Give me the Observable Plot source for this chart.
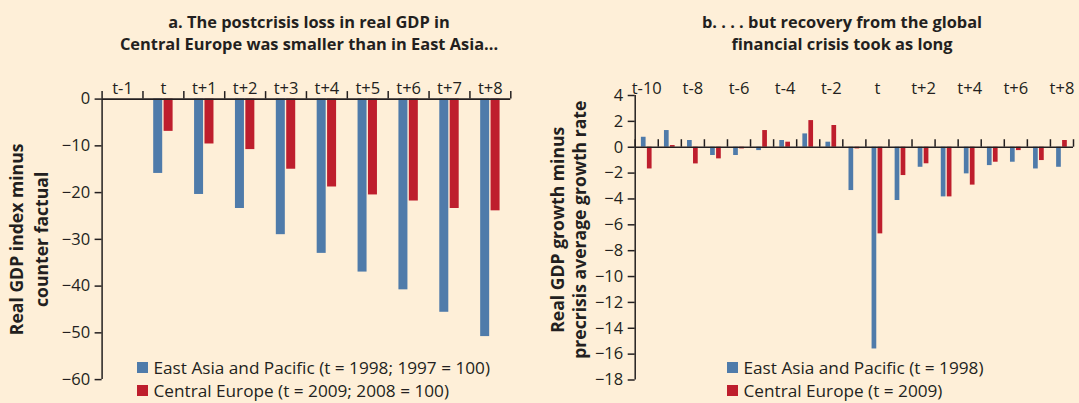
<!DOCTYPE html>
<html><head><meta charset="utf-8">
<script src="https://cdn.jsdelivr.net/npm/d3@7"></script>
<script src="https://cdn.jsdelivr.net/npm/@observablehq/plot@0.6"></script>
<style>
html,body{margin:0;padding:0;background:#FEEFD8;}
body{font-family:"Open Sans",Lato,sans-serif;color:#231f20;}
#wrap{position:relative;width:1079px;height:403px;overflow:hidden;background:#FEEFD8;}
.abs{position:absolute;}
.title{position:absolute;font-weight:700;font-size:16.4px;line-height:22.4px;text-align:center;white-space:nowrap;transform:translateX(-50%);}
.legend{position:absolute;font-size:17.2px;line-height:22px;white-space:nowrap;}
.legend .row{display:flex;align-items:center;height:23px;}
.legend .sw{width:10.5px;height:10.5px;margin-right:6px;flex:none;}
</style>
</head><body>
<div id="wrap">
  <div class="title" id="titleA" style="left:309px;top:11px;"></div>
  <div class="title" id="titleB" style="left:842px;top:11px;"></div>
  <div class="abs" id="plotA" style="left:0;top:60px;"></div>
  <div class="abs" id="plotB" style="left:540px;top:60px;"></div>
  <div class="legend" id="legA" style="left:137px;top:356px;"></div>
  <div class="legend" id="legB" style="left:727px;top:356px;"></div>
</div>
<script>
// ---- data ----
const titleA = ["a. The postcrisis loss in real GDP in", "Central Europe was smaller than in East Asia..."];
const titleB = ["b. . . . but recovery from the global", "financial crisis took as long"];
const yTitleA = ["Real GDP index minus", "counter factual"];
const yTitleB = ["Real GDP growth minus", "precrisis average growth rate"];

const seriesNames = ["East Asia and Pacific", "Central Europe"];
const seriesColors = ["#4F7BAA", "#BE1E2D"];
const legendA = ["East Asia and Pacific (t = 1998; 1997 = 100)", "Central Europe (t = 2009; 2008 = 100)"];
const legendB = ["East Asia and Pacific (t = 1998)", "Central Europe (t = 2009)"];

const periodsA = ["t-1","t","t+1","t+2","t+3","t+4","t+5","t+6","t+7","t+8"];
const eastAsiaA = [0, -15.9, -20.4, -23.4, -29.0, -33.0, -37.0, -40.8, -45.6, -50.8];
const centralEuropeA = [0, -6.9, -9.6, -10.8, -15.0, -18.8, -20.5, -21.8, -23.4, -23.9];
const yTicksA = [0, -10, -20, -30, -40, -50, -60];

const periodsB = ["t-10","t-9","t-8","t-7","t-6","t-5","t-4","t-3","t-2","t-1","t","t+1","t+2","t+3","t+4","t+5","t+6","t+7","t+8"];
const eastAsiaB = [0.77, 1.29, 0.52, -0.64, -0.64, -0.26, 0.52, 1.03, 0.39, -3.35, -15.6, -4.12, -1.55, -3.84, -2.06, -1.42, -1.16, -1.68, -1.55];
const centralEuropeB = [-1.68, 0.13, -1.29, -0.9, -0.13, 1.29, 0.39, 2.06, 1.68, -0.13, -6.7, -2.19, -1.28, -3.84, -2.93, -1.16, -0.26, -1.03, 0.52];
const yTicksB = [4, 2, 0, -2, -4, -6, -8, -10, -12, -14, -16, -18];

// ---- helpers ----
const ink = "#231f20";
const fontFam = "'Open Sans', Lato, sans-serif";
const fmt = d => d < 0 ? "\u2212" + Math.abs(d) : String(d);

function table(periods, a, b) {
  return periods.flatMap((p, i) => [
    {i, period: p, series: seriesNames[0], value: a[i]},
    {i, period: p, series: seriesNames[1], value: b[i]}
  ]);
}

function panel({periods, a, b, yTicks, yDomain, width, height, margins, labelEvery, labelDy, inset, yTitle, titleDx, titleDy, titleSize}) {
  const rows = table(periods, a, b);
  const n = periods.length;
  const [bw, gap] = inset; // pixel bar width & gap
  const band = (width - margins[1] - margins[3]) / n;
  const inner = band / 2;
  return Plot.plot({
    width, height,
    marginTop: margins[0], marginRight: margins[1], marginBottom: margins[2], marginLeft: margins[3],
    style: {background: "transparent", fontFamily: fontFam, fontSize: "16px", color: ink, overflow: "visible"},
    x: {type: "linear", domain: [0, n], axis: null},
    y: {domain: yDomain, axis: null},
    marks: [
      Plot.rect(rows.filter(d => d.series === seriesNames[0]), {
        x1: d => d.i, x2: d => d.i + 1, y1: 0, y2: "value",
        fill: seriesColors[0], insetLeft: inner - gap / 2 - bw, insetRight: inner + gap / 2
      }),
      Plot.rect(rows.filter(d => d.series === seriesNames[1]), {
        x1: d => d.i, x2: d => d.i + 1, y1: 0, y2: "value",
        fill: seriesColors[1], insetLeft: inner + gap / 2, insetRight: inner - gap / 2 - bw
      }),
      Plot.ruleX([0], {stroke: ink, strokeWidth: 1.5}),
      Plot.ruleY([0], {stroke: ink, strokeWidth: 1.6}),
      Plot.ruleX(d3.range(n + 1), {x: d => d, y1: 0, y2: 0, insetTop: -7.5, stroke: ink, strokeWidth: 1.5}),
      Plot.axisY({ticks: yTicks, tickFormat: fmt, tickSize: 7, tickPadding: 5, fontSize: 16.5, stroke: ink, strokeWidth: 1.5, label: null, fill: ink}),
      Plot.text(periods, {filter: (d, i) => i % labelEvery === 0, x: (d, i) => i + 0.5, frameAnchor: "top", dy: labelDy, text: d => d, fontSize: 16.5, fill: ink}),
      Plot.text([yTitle[0]], {frameAnchor: "left", textAnchor: "middle", rotate: -90, dx: titleDx[0], dy: titleDy, text: d => d, fontSize: titleSize, fontWeight: "bold", fill: ink}),
      Plot.text([yTitle[1]], {frameAnchor: "left", textAnchor: "middle", rotate: -90, dx: titleDx[1], dy: titleDy, text: d => d, fontSize: titleSize, fontWeight: "bold", fill: ink})
    ]
  });
}

document.getElementById("plotA").append(panel({
  periods: periodsA, a: eastAsiaA, b: centralEuropeA, yTicks: yTicksA, yDomain: [-60, 0],
  width: 540, height: 343, margins: [38.6, 29.7, 23.9, 101.6],
  labelEvery: 1, labelDy: -17, inset: [9, 1.4], yTitle: yTitleA, titleDx: [-85, -60], titleDy: 0, titleSize: 17.6
}));
document.getElementById("plotB").append(panel({
  periods: periodsB, a: eastAsiaB, b: centralEuropeB, yTicks: yTicksB, yDomain: [-18, 4],
  width: 539, height: 343, margins: [35, 6, 23.5, 94.7],
  labelEvery: 2, labelDy: -13.4, inset: [4.7, 1.3], yTitle: yTitleB, titleDx: [-77, -55], titleDy: -8, titleSize: 17.6
}));

document.getElementById("titleA").innerHTML = titleA.join("<br>");
document.getElementById("titleB").innerHTML = titleB.join("<br>");

function legend(el, labels) {
  labels.forEach((t, k) => {
    const row = document.createElement("div"); row.className = "row";
    const sw = document.createElement("div"); sw.className = "sw"; sw.style.background = seriesColors[k];
    const tx = document.createElement("span"); tx.textContent = t;
    row.append(sw, tx); el.append(row);
  });
}
legend(document.getElementById("legA"), legendA);
legend(document.getElementById("legB"), legendB);
</script>
</body></html>
